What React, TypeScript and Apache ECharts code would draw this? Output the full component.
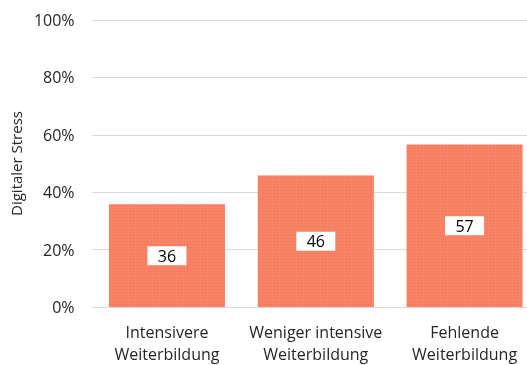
import React, { useEffect, useRef } from "react";
import * as echarts from "echarts";

const categories = ["Intensivere\nWeiterbildung", "Weniger intensive\nWeiterbildung", "Fehlende\nWeiterbildung"];
const values = [35.8, 45.8, 56.6];
const labels = ["36", "46", "57"];
const yTicks = [0, 20, 40, 60, 80, 100];

export default function App() {
  const ref = useRef<HTMLDivElement>(null);
  useEffect(() => {
    if (!ref.current) return;
    const chart = echarts.init(ref.current, undefined, { renderer: "svg" });
    const font = "'Open Sans', 'Noto Sans', sans-serif";
    chart.setOption({
      animation: false,
      grid: { left: 89, top: 20, right: 6, height: 289, containLabel: false },
      xAxis: {
        type: "category",
        data: categories,
        axisLine: { show: true, lineStyle: { color: "#d9d9d9", width: 1 } },
        axisTick: { show: false },
        axisLabel: { color: "#262626", fontSize: 16, fontFamily: font, lineHeight: 22, margin: 14, interval: 0 },
      },
      yAxis: {
        type: "value",
        min: yTicks[0],
        max: yTicks[yTicks.length - 1],
        interval: 20,
        name: "Digitaler Stress",
        nameLocation: "middle",
        nameGap: 62,
        nameTextStyle: { color: "#262626", fontSize: 15, fontFamily: font },
        axisLine: { show: false },
        axisTick: { show: false },
        splitLine: { lineStyle: { color: "#d9d9d9", width: 1 } },
        axisLabel: { color: "#262626", fontSize: 16, fontFamily: font, margin: 18, formatter: (v: number) => v + "%" },
      },
      series: [
        {
          type: "bar",
          data: values,
          barWidth: 116,
          itemStyle: {
            color: "#f98468",
            decal: {
              symbol: "rect",
              symbolSize: 0.5,
              color: "rgba(225,90,50,0.35)",
              dashArrayX: [3, 0],
              dashArrayY: [3, 0],
              rotation: 0,
            },
          },
          label: {
            show: true,
            position: "inside",
            formatter: (p: any) => labels[p.dataIndex],
            backgroundColor: "#ffffff",
            color: "#000000",
            fontSize: 16,
            fontFamily: font,
            padding: [2, 8, 1, 8],
            width: 23,
            align: "center",
          },
        },
      ],
    });
    return () => chart.dispose();
  }, []);
  return (
    <div style={{ position: "fixed", left: 0, top: 0, width: 527, height: 365, overflow: "hidden" }}>
      <div ref={ref} style={{ width: 545, height: 365 }} />
    </div>
  );
}
